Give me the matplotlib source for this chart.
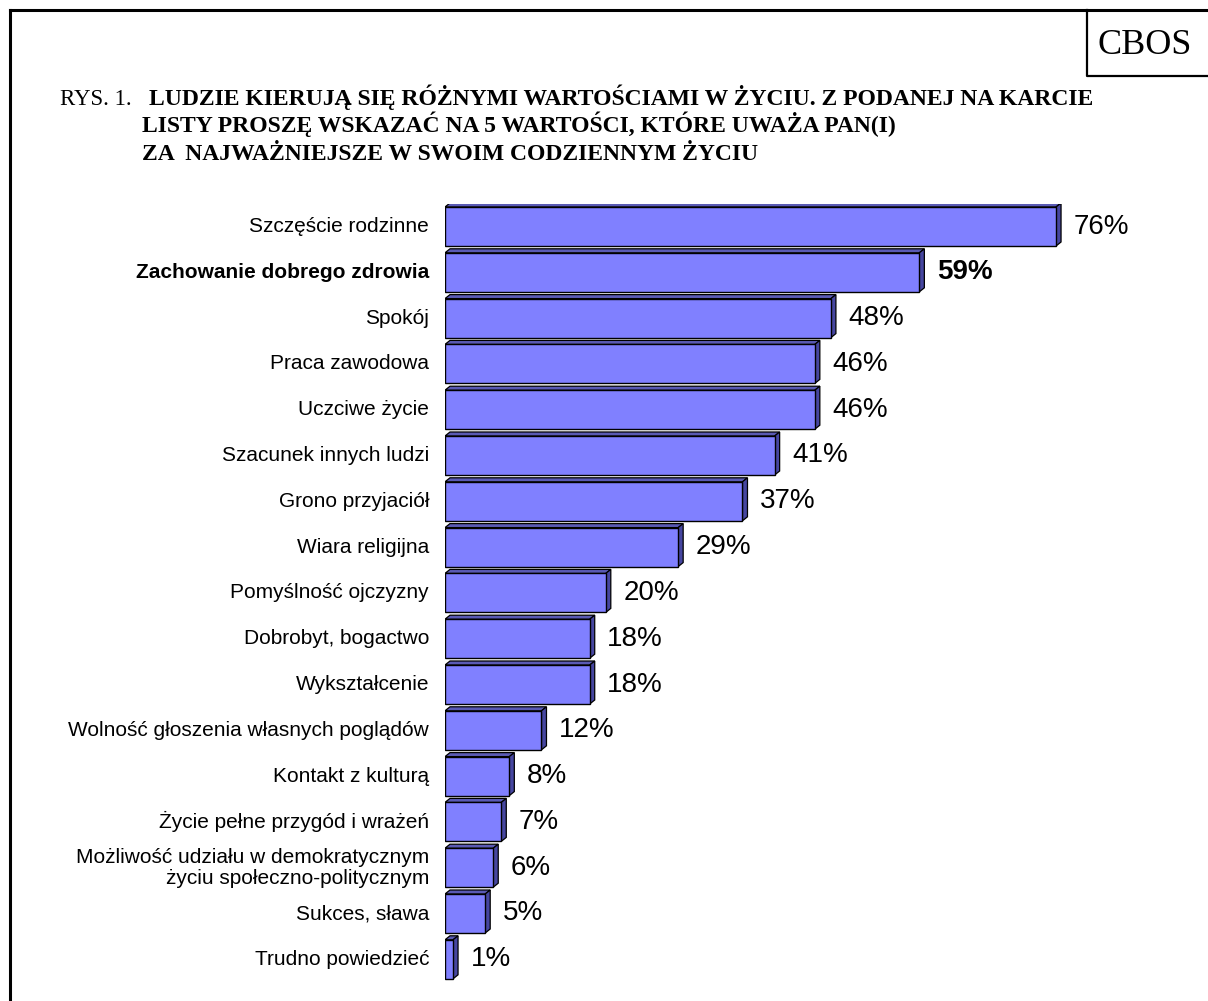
#!/usr/bin/env python
"""Recreate the CBOS chart of the values people find most important in life.

Horizontal bars with a small 3D look (top and side faces), category
labels on the left and percentage labels to the right of every bar.

Usage:
    python plot.py
"""

import matplotlib

matplotlib.use("Agg")

import matplotlib.pyplot as plt
from matplotlib.lines import Line2D
from matplotlib.patches import Polygon

# --- data -----------------------------------------------------------------
categories = [
    "Szczęście rodzinne",
    "Zachowanie dobrego zdrowia",
    "Spokój",
    "Praca zawodowa",
    "Uczciwe życie",
    "Szacunek innych ludzi",
    "Grono przyjaciół",
    "Wiara religijna",
    "Pomyślność ojczyzny",
    "Dobrobyt, bogactwo",
    "Wykształcenie",
    "Wolność głoszenia własnych poglądów",
    "Kontakt z kulturą",
    "Życie pełne przygód i wrażeń",
    "Możliwość udziału w demokratycznym\nżyciu społeczno-politycznym",
    "Sukces, sława",
    "Trudno powiedzieć",
]
values = [76, 59, 48, 46, 46, 41, 37, 29, 20, 18, 18, 12, 8, 7, 6, 5, 1]
highlight = "Zachowanie dobrego zdrowia"

title_prefix = "RYS. 1. "
title_lines = [
    "LUDZIE KIERUJĄ SIĘ RÓŻNYMI WARTOŚCIAMI W ŻYCIU. Z PODANEJ NA KARCIE",
    "LISTY PROSZĘ WSKAZAĆ NA 5 WARTOŚCI, KTÓRE UWAŻA PAN(I)",
    "ZA  NAJWAŻNIEJSZE W SWOIM CODZIENNYM ŻYCIU",
]
source = "CBOS"

# --- styling --------------------------------------------------------------
W, H = 1208, 1001
FRONT = "#8080FF"
TOP = "#5A5AB4"
SIDE = "#4646A0"
SANS = ["Liberation Sans", "DejaVu Sans"]
SERIF = ["Liberation Serif", "DejaVu Serif"]


def fx(px):
    """Pixel x -> figure fraction."""
    return px / W


def fy(py):
    """Pixel y (from top) -> figure fraction."""
    return 1 - py / H


def draw_frame(fig):
    """Outer frame and the CBOS box in the top right corner."""
    lines = [
        ((10, 10), (10, H)),
        ((10, W), (10, 10)),
    ]
    for (x0, x1), (y0, y1) in lines:
        fig.add_artist(Line2D([fx(x0), fx(x1)], [fy(y0), fy(y1)],
                              color="black", lw=2.2))
    fig.add_artist(Line2D([fx(1087), fx(1087), fx(W)], [fy(10), fy(76), fy(76)],
                          color="black", lw=1.6))
    fig.text(fx(1145), fy(45), source, family=SERIF, fontsize=26,
             ha="center", va="center")


def draw_title(fig):
    """Three-line title: regular prefix, bold question."""
    fig.text(fx(60), fy(105), title_prefix, family=SERIF, fontsize=16.5,
             ha="left", va="baseline")
    starts = [149, 142, 142]
    baselines = [105, 132, 160]
    for text, x, y in zip(title_lines, starts, baselines):
        fig.text(fx(x), fy(y), text, family=SERIF, fontsize=17,
                 fontweight="bold", ha="left", va="baseline")


def draw_bars(fig):
    """Bars with top and side faces, plus category and value labels."""
    x0, x_max, px_per_unit = 445, 80, 8.04
    row0, row_step = 226.5, 45.8
    n = len(values)
    top_px = row0 - row_step / 2
    bottom_px = row0 + (n - 1) * row_step + row_step / 2

    ax = fig.add_axes([fx(x0), fy(bottom_px),
                       x_max * px_per_unit / W, (bottom_px - top_px) / H])
    ax.set_xlim(0, x_max)
    ax.set_ylim(n - 0.5, -0.5)
    ax.axis("off")

    h = 39 / row_step
    dx = 5 / px_per_unit
    dy = 4 / row_step
    rows = list(range(n))

    ax.barh(rows, values, height=h, color=FRONT, edgecolor="black",
            linewidth=1.0, zorder=3)

    for i, v in zip(rows, values):
        top_edge = i - h / 2
        bot_edge = i + h / 2
        top_face = [(0, top_edge), (dx, top_edge - dy),
                    (v + dx, top_edge - dy), (v, top_edge)]
        side_face = [(v, top_edge), (v + dx, top_edge - dy),
                     (v + dx, bot_edge - dy), (v, bot_edge)]
        ax.add_patch(Polygon(top_face, closed=True, facecolor=TOP,
                             edgecolor="black", lw=0.9, zorder=2))
        ax.add_patch(Polygon(side_face, closed=True, facecolor=SIDE,
                             edgecolor="black", lw=0.9, zorder=2))

    for i, (cat, v) in enumerate(zip(categories, values)):
        weight = "bold" if cat == highlight else "normal"
        ax.annotate(f"{v}%", xy=(v + dx, i), xytext=(9, 0),
                    textcoords="offset points", ha="left", va="center",
                    family=SANS, fontsize=20, fontweight=weight)
        ax.annotate(cat, xy=(0, i), xytext=(-11.5, 0),
                    textcoords="offset points", ha="right", va="center",
                    multialignment="right", linespacing=1.15,
                    family=SANS, fontsize=15, fontweight=weight)
    return ax


def main():
    fig = plt.figure(figsize=(W / 100, H / 100), dpi=100)
    fig.patch.set_facecolor("white")
    draw_frame(fig)
    draw_title(fig)
    draw_bars(fig)
    fig.savefig("out.png", dpi=100)
    plt.close(fig)


if __name__ == "__main__":
    main()
